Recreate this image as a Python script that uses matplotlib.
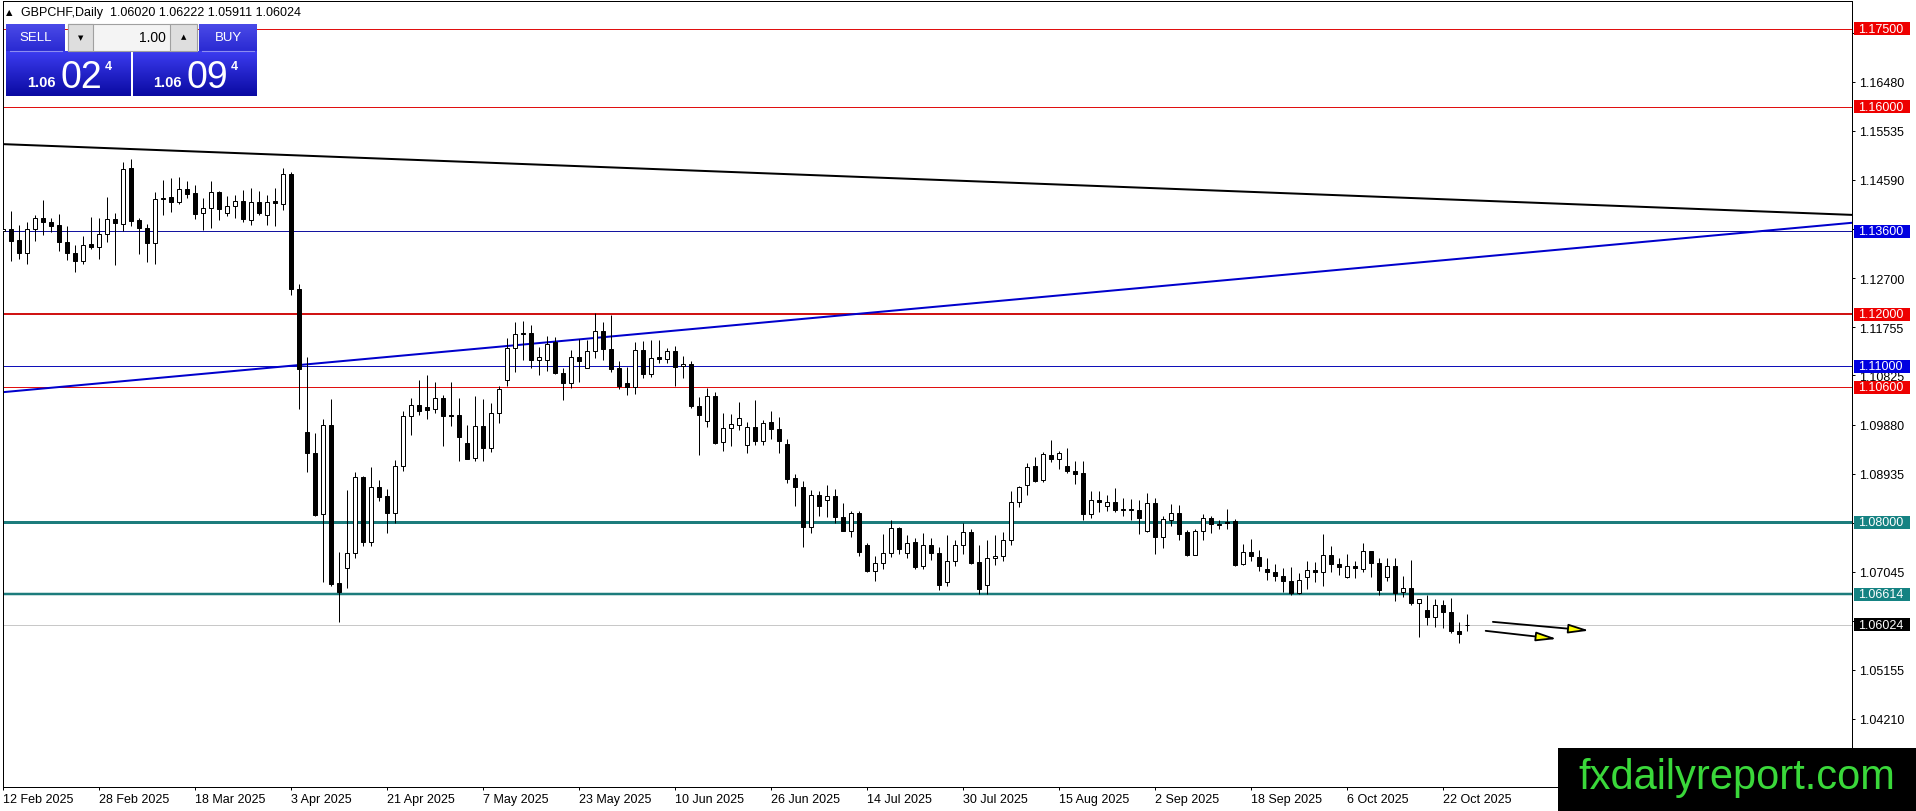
import numpy as np
import matplotlib
matplotlib.use("Agg")
import matplotlib.pyplot as plt
from matplotlib.patches import Rectangle
from matplotlib.colors import LinearSegmentedColormap

# ---------------- data (GBPCHF daily) ----------------
opens = [1.1361,1.1364,1.1343,1.1318,1.1365,1.1386,1.1379,1.1372,1.1340,1.1319,
         1.1303,1.1335,1.1330,1.1355,1.1383,1.1375,1.1483,1.1381,1.1367,1.1338,
         1.1424,1.1426,1.1417,1.1442,1.1433,1.1396,1.1406,1.1436,1.1396,1.1408,
         1.1419,1.1382,1.1416,1.1391,1.1418,1.1413,1.1471,1.1250,1.0974,1.0934,
         1.0815,1.0987,1.0682,1.0712,1.0741,1.0886,1.0762,1.0868,1.0851,1.0818,
         1.0908,1.1004,1.1025,1.1022,1.1017,1.1039,1.1007,1.1006,1.0953,1.0924,
         1.0985,1.0943,1.1010,1.1074,1.1135,1.1164,1.1164,1.1113,1.1113,1.1147,
         1.1087,1.1068,1.1118,1.1097,1.1130,1.1168,1.1134,1.1096,1.1068,1.1060,
         1.1132,1.1085,1.1118,1.1114,1.1130,1.1100,1.1105,1.1024,1.0995,1.1043,
         1.0954,1.0981,1.0988,1.0949,1.0984,1.0956,1.0992,1.0980,1.0951,1.0885,
         1.0868,1.0790,1.0853,1.0843,1.0851,1.0810,1.0783,1.0818,1.0756,1.0706,
         1.0722,1.0741,1.0788,1.0740,1.0761,1.0715,1.0756,1.0741,1.0684,1.0726,
         1.0756,1.0781,1.0723,1.0678,1.0730,1.0734,1.0765,1.0839,1.0872,1.0908,
         1.0881,1.0930,1.0922,1.0908,1.0899,1.0894,1.0815,1.0843,1.0831,1.0839,
         1.0826,1.0826,1.0823,1.0783,1.0837,1.0771,1.0805,1.0817,1.0781,1.0737,
         1.0783,1.0808,1.0797,1.0800,1.0802,1.0719,1.0742,1.0732,1.0710,1.0704,
         1.0697,1.0686,1.0663,1.0695,1.0707,1.0703,1.0736,1.0719,1.0695,1.0715,
         1.0710,1.0744,1.0721,1.0695,1.0715,1.0665,1.0673,1.0645,1.0630,1.0618,
         1.0641,1.0626,1.0591,1.06020]
highs = [1.1377,1.1400,1.1372,1.1379,1.1391,1.1420,1.1385,1.1393,1.1371,1.1334,
         1.1352,1.1388,1.1385,1.1427,1.1395,1.1494,1.1500,1.1385,1.1375,1.1436,
         1.1459,1.1462,1.1465,1.1457,1.1449,1.1424,1.1458,1.1438,1.1429,1.1430,
         1.1439,1.1444,1.1438,1.1430,1.1443,1.1483,1.1474,1.1258,1.1118,1.0972,
         1.0999,1.1038,1.0742,1.0862,1.0897,1.0889,1.0906,1.0881,1.0863,1.0919,
         1.1014,1.1040,1.1073,1.1084,1.1070,1.1044,1.1069,1.1040,1.0988,1.1043,
         1.1038,1.1030,1.1062,1.1154,1.1185,1.1188,1.1179,1.1137,1.1158,1.1156,
         1.1097,1.1132,1.1153,1.1150,1.1203,1.1185,1.1199,1.1110,1.1099,1.1147,
         1.1148,1.1151,1.1151,1.1136,1.1140,1.1120,1.1110,1.1041,1.1058,1.1051,
         1.1011,1.1008,1.1031,1.0992,1.1036,1.0996,1.1014,1.1003,1.0961,1.0892,
         1.0879,1.0862,1.0860,1.0871,1.0863,1.0837,1.0821,1.0821,1.0759,1.0735,
         1.0778,1.0804,1.0791,1.0775,1.0770,1.0779,1.0770,1.0752,1.0775,1.0765,
         1.0798,1.0787,1.0756,1.0766,1.0776,1.0781,1.0860,1.0870,1.0913,1.0926,
         1.0936,1.0959,1.0937,1.0942,1.0918,1.0918,1.0860,1.0860,1.0852,1.0865,
         1.0846,1.0845,1.0842,1.0857,1.0847,1.0812,1.0835,1.0833,1.0784,1.0787,
         1.0815,1.0811,1.0805,1.0826,1.0806,1.0758,1.0768,1.0746,1.0730,1.0720,
         1.0712,1.0713,1.0702,1.0726,1.0724,1.0777,1.0754,1.0731,1.0739,1.0726,
         1.0760,1.0745,1.0731,1.0731,1.0730,1.0697,1.0728,1.0652,1.0660,1.0652,
         1.0650,1.0653,1.0608,1.06222]
lows = [1.1318,1.1303,1.1307,1.1297,1.1341,1.1353,1.1359,1.1322,1.1305,1.1282,
        1.1297,1.1326,1.1307,1.1340,1.1295,1.1361,1.1371,1.1316,1.1302,1.1297,
        1.1391,1.1397,1.1412,1.1424,1.1383,1.1363,1.1366,1.1381,1.1390,1.1385,
        1.1379,1.1372,1.1391,1.1373,1.1370,1.1402,1.1237,1.1017,1.0897,1.0812,
        1.0684,1.0676,1.0608,1.0674,1.0731,1.0754,1.0754,1.0840,1.0779,1.0799,
        1.0898,1.0967,1.1007,1.0999,1.1011,1.0947,1.0985,1.0918,1.0921,1.0917,
        1.0917,1.0935,1.0990,1.1063,1.1089,1.1113,1.1097,1.1084,1.1092,1.1086,
        1.1035,1.1058,1.1070,1.1097,1.1116,1.1113,1.1090,1.1056,1.1044,1.1046,
        1.1078,1.1079,1.1107,1.1107,1.1063,1.1078,1.1020,1.0929,1.0983,1.0950,
        1.0937,1.0946,1.0977,1.0934,1.0949,1.0949,1.0961,1.0934,1.0876,1.0831,
        1.0753,1.0779,1.0812,1.0810,1.0799,1.0783,1.0771,1.0735,1.0704,1.0687,
        1.0710,1.0733,1.0738,1.0730,1.0710,1.0710,1.0728,1.0670,1.0676,1.0715,
        1.0739,1.0720,1.0662,1.0662,1.0718,1.0726,1.0755,1.0829,1.0852,1.0877,
        1.0877,1.0915,1.0902,1.0894,1.0873,1.0805,1.0807,1.0819,1.0821,1.0819,
        1.0812,1.0805,1.0778,1.0781,1.0739,1.0750,1.0792,1.0766,1.0735,1.0737,
        1.0766,1.0779,1.0786,1.0786,1.0716,1.0718,1.0726,1.0706,1.0688,1.0686,
        1.0666,1.0660,1.0662,1.0672,1.0684,1.0677,1.0704,1.0699,1.0692,1.0692,
        1.0704,1.0694,1.0660,1.0686,1.0648,1.0656,1.0641,1.0579,1.0602,1.0598,
        1.0597,1.0587,1.0568,1.05911]
closes = [1.1364,1.1341,1.1318,1.1365,1.1386,1.1378,1.1370,1.1339,1.1318,1.1303,
          1.1334,1.1330,1.1355,1.1383,1.1377,1.1481,1.1380,1.1367,1.1338,1.1423,
          1.1423,1.1417,1.1442,1.1432,1.1394,1.1406,1.1435,1.1404,1.1408,1.1419,
          1.1383,1.1416,1.1395,1.1417,1.1414,1.1470,1.1250,1.1094,1.0933,1.0813,
          1.0987,1.0681,1.0665,1.0741,1.0887,1.0762,1.0868,1.0849,1.0818,1.0908,
          1.1004,1.1025,1.1014,1.1016,1.1039,1.1004,1.1004,1.0964,1.0922,1.0985,
          1.0943,1.1010,1.1057,1.1135,1.1162,1.1162,1.1113,1.1118,1.1143,1.1087,
          1.1068,1.1118,1.1110,1.1130,1.1168,1.1133,1.1094,1.1063,1.1060,1.1132,
          1.1085,1.1116,1.1115,1.1129,1.1099,1.1104,1.1023,1.1006,1.1043,1.0953,
          1.0981,1.0989,1.1001,1.0984,1.0956,1.0991,1.0979,1.0956,1.0884,1.0868,
          1.0790,1.0852,1.0831,1.0851,1.0810,1.0783,1.0818,1.0743,1.0706,1.0722,
          1.0741,1.0788,1.0748,1.0759,1.0714,1.0756,1.0740,1.0679,1.0726,1.0756,
          1.0781,1.0721,1.0672,1.0730,1.0735,1.0765,1.0839,1.0868,1.0906,1.0880,
          1.0932,1.0922,1.0934,1.0899,1.0893,1.0815,1.0843,1.0839,1.0839,1.0823,
          1.0823,1.0823,1.0807,1.0837,1.0771,1.0806,1.0817,1.0778,1.0737,1.0783,
          1.0808,1.0797,1.0794,1.0799,1.0718,1.0742,1.0734,1.0715,1.0703,1.0697,
          1.0686,1.0663,1.0688,1.0707,1.0703,1.0736,1.0719,1.0713,1.0715,1.0711,
          1.0744,1.0721,1.0670,1.0715,1.0664,1.0673,1.0644,1.0651,1.0618,1.0641,
          1.0626,1.0590,1.0584,1.06024]

x_tick_bars = [0, 12, 24, 36, 48, 60, 72, 84, 96, 108, 120, 132, 144, 156, 168, 180]
x_tick_labels = ["12 Feb 2025", "28 Feb 2025", "18 Mar 2025", "3 Apr 2025",
                 "21 Apr 2025", "7 May 2025", "23 May 2025", "10 Jun 2025",
                 "26 Jun 2025", "14 Jul 2025", "30 Jul 2025", "15 Aug 2025",
                 "2 Sep 2025", "18 Sep 2025", "6 Oct 2025", "22 Oct 2025"]
y_ticks = [1.17425, 1.16480, 1.15535, 1.14590, 1.13645, 1.12700, 1.11755,
           1.10825, 1.09880, 1.08935, 1.07990, 1.07045, 1.06100, 1.05155, 1.04210]
# labels that sit fully behind a level box on the price scale
y_hidden = [1.17425, 1.13645, 1.07990, 1.06100]

# horizontal levels: price, colour, line width (px), label box colour
level_prices = [1.17500, 1.16000, 1.13600, 1.12000, 1.11000, 1.10600, 1.08000, 1.06614, 1.06024]
level_colors = ['#e01010', '#e01010', '#1414a0', '#d01414', '#1010b8', '#e01010', '#1c7c7c', '#1c7c7c', '#c8c8c8']
level_widths = [1, 1, 1, 2, 1, 1, 3, 2.5, 1]
level_boxes = ['#ee0000', '#ee0000', '#0000e0', '#ee0000', '#0000e0', '#ee0000', '#158282', '#158282', '#000000']

# trend lines: two anchor points (bar index, price)
black_trend = [(-0.41, 1.15283), (231.1, 1.13918)]
blue_trend = [(-0.41, 1.10498), (231.1, 1.13766)]

# drawn arrows: (start bar, start price) -> (end bar, end price)
arrow_starts = [(186.2, 1.06079), (185.3, 1.05906)]
arrow_ends = [(198.25, 1.05911), (194.2, 1.05751)]

header = "GBPCHF,Daily  1.06020 1.06222 1.05911 1.06024"

# ---------------- figure ----------------
W, H = 1916, 812
fig = plt.figure(figsize=(W / 100, H / 100), dpi=100)
fig.patch.set_facecolor('white')
FONT = ['Liberation Sans', 'DejaVu Sans']
plt.rcParams['font.family'] = FONT

ax_l, ax_r, ax_t, ax_b = 2.7, 1852.3, 2.3, 788.0
ax = fig.add_axes([ax_l / W, 1 - ax_b / H, (ax_r - ax_l) / W, (ax_b - ax_t) / H])
ax.set_facecolor('white')
ax.set_xlim(-0.075, 231.125)
ax.set_ylim(1.02898, 1.18032)

px = 1 / 100 * 72  # points per pixel

# horizontal levels
for p, c, w in zip(level_prices, level_colors, level_widths):
    ax.axhline(p, color=c, lw=w * px, zorder=1)

# trend lines
ax.axline(black_trend[0], black_trend[1], color='black', lw=2 * px, zorder=1.5)
ax.axline(blue_trend[0], blue_trend[1], color='#0000cc', lw=2 * px, zorder=1.5)

# candles
idx = np.arange(len(opens))
o = np.array(opens); h = np.array(highs); l = np.array(lows); c = np.array(closes)
ax.vlines(idx, l, h, color='black', lw=1 * px, zorder=2)
bull = c >= o
body_lo = np.minimum(o, c)
body_h = np.maximum(np.abs(c - o), 0.00002)
ax.bar(idx[bull], body_h[bull], bottom=body_lo[bull], width=0.5,
       color='white', edgecolor='black', linewidth=1 * px, zorder=3)
ax.bar(idx[~bull], body_h[~bull], bottom=body_lo[~bull], width=0.5,
       color='black', edgecolor='black', linewidth=1 * px, zorder=3)

# arrows
for s, e in zip(arrow_starts, arrow_ends):
    ax.annotate('', xy=e, xytext=s,
                arrowprops=dict(arrowstyle='-|>,head_length=0.62,head_width=0.14',
                                mutation_scale=20, fc='#ffff00', ec='black',
                                lw=1.3 * px * 1.4, shrinkA=0, shrinkB=0),
                zorder=4)

# axes styling
for sp in ax.spines.values():
    sp.set_color('black')
    sp.set_linewidth(1 * px)
ax.yaxis.tick_right()
ax.set_yticks(y_ticks)
ax.set_yticklabels(["" if v in y_hidden else f"{v:.5f}" for v in y_ticks])
ax.tick_params(axis='y', which='both', direction='out', length=3 * px, width=1 * px,
               pad=4 * px, labelsize=9, colors='black', left=False, right=True)
ax.set_xticks(x_tick_bars)
ax.set_xticklabels(x_tick_labels, ha='left')
ax.tick_params(axis='x', direction='out', length=3 * px, width=1 * px,
               pad=3 * px, labelsize=9, colors='black')

# level label boxes on the price scale
ytr = ax.get_yaxis_transform()
span = ax_r - ax_l
bx0 = (1854 - ax_l) / span
bw = 56 / span
bh = 13 / 5187.0
for p, bc in zip(level_prices, level_boxes):
    ax.add_patch(Rectangle((bx0, p - bh / 2), bw, bh, transform=ytr, facecolor=bc,
                           edgecolor='none', clip_on=False, zorder=6))
    ax.text((1858.5 - ax_l) / span, p, f"{p:.5f}", transform=ytr, ha='left', va='center',
            color='white', fontsize=9, clip_on=False, zorder=7)

# ---------------- overlay (pixel coordinates) ----------------
ov = fig.add_axes([0, 0, 1, 1], zorder=10)
ov.patch.set_visible(False)
ov.axis('off')


def grad(x0, y0, x1, y1, top, bot):
    cmap = LinearSegmentedColormap.from_list('g', [top, bot])
    g = np.linspace(0, 1, 64).reshape(-1, 1)
    ov.imshow(g, cmap=cmap, extent=(x0, x1, y1, y0), aspect='auto',
              interpolation='bilinear', zorder=1)


# header
ov.text(9.5, 12.5, "\u25b2", fontsize=6, ha='center', va='center', color='black',
        family=['DejaVu Sans'])
ov.text(21, 12.8, header, fontsize=9, ha='left', va='center', color='black')

# trade panel
grad(6, 25, 65, 52, '#4a4ae8', '#2a2ad2')        # SELL
grad(199, 25, 257, 52, '#4a4ae8', '#2a2ad2')     # BUY
ov.plot([10, 62], [51.5, 51.5], color='#8c8cf0', lw=0.8)
ov.plot([202, 254], [51.5, 51.5], color='#8c8cf0', lw=0.8)
ov.text(35.5, 38, "SELL", color='white', fontsize=9.5, ha='center', va='center')
ov.text(228, 38, "BUY", color='white', fontsize=9.5, ha='center', va='center')
ov.add_patch(Rectangle((68, 25), 129, 27, facecolor='#f4f4f4', edgecolor='#a0a0a0', lw=0.8, zorder=2))
ov.add_patch(Rectangle((68, 25), 25, 27, facecolor='#dedede', edgecolor='#a0a0a0', lw=0.8, zorder=3))
ov.add_patch(Rectangle((170, 25), 27, 27, facecolor='#dedede', edgecolor='#a0a0a0', lw=0.8, zorder=3))
ov.text(80.5, 38.5, "\u25bc", fontsize=5, ha='center', va='center', color='black',
        family=['DejaVu Sans'], zorder=4)
ov.text(183.5, 37.5, "\u25b2", fontsize=5, ha='center', va='center', color='black',
        family=['DejaVu Sans'], zorder=4)
ov.text(166, 38, "1.00", fontsize=10, ha='right', va='center', color='black', zorder=4)

grad(6, 52, 131, 97, '#3c3cf0', '#0a0aa2')       # sell price
grad(133, 52, 257, 97, '#3c3cf0', '#0a0aa2')     # buy price
for xs, big in [(27, "02"), (153, "09")]:
    ov.text(xs, 87, "1.06", color='white', fontsize=10.5, fontweight='bold',
            ha='left', va='baseline', zorder=4)
    ov.text(xs + 34, 88.5, big, color='white', fontsize=27, ha='left', va='baseline', zorder=4)
    ov.text(xs + 78, 70, "4", color='white', fontsize=9, fontweight='bold',
            ha='left', va='baseline', zorder=4)

# watermark
ov.add_patch(Rectangle((1558, 749), W - 1558, H - 749, facecolor='black', edgecolor='none', zorder=2))
ov.text(1736.5, 789, "fxdailyreport.com", color='#3ad83a', fontsize=30,
        ha='center', va='baseline', zorder=3)

ov.set_xlim(0, W)
ov.set_ylim(H, 0)

fig.savefig('out.png', dpi=100, facecolor='white')
